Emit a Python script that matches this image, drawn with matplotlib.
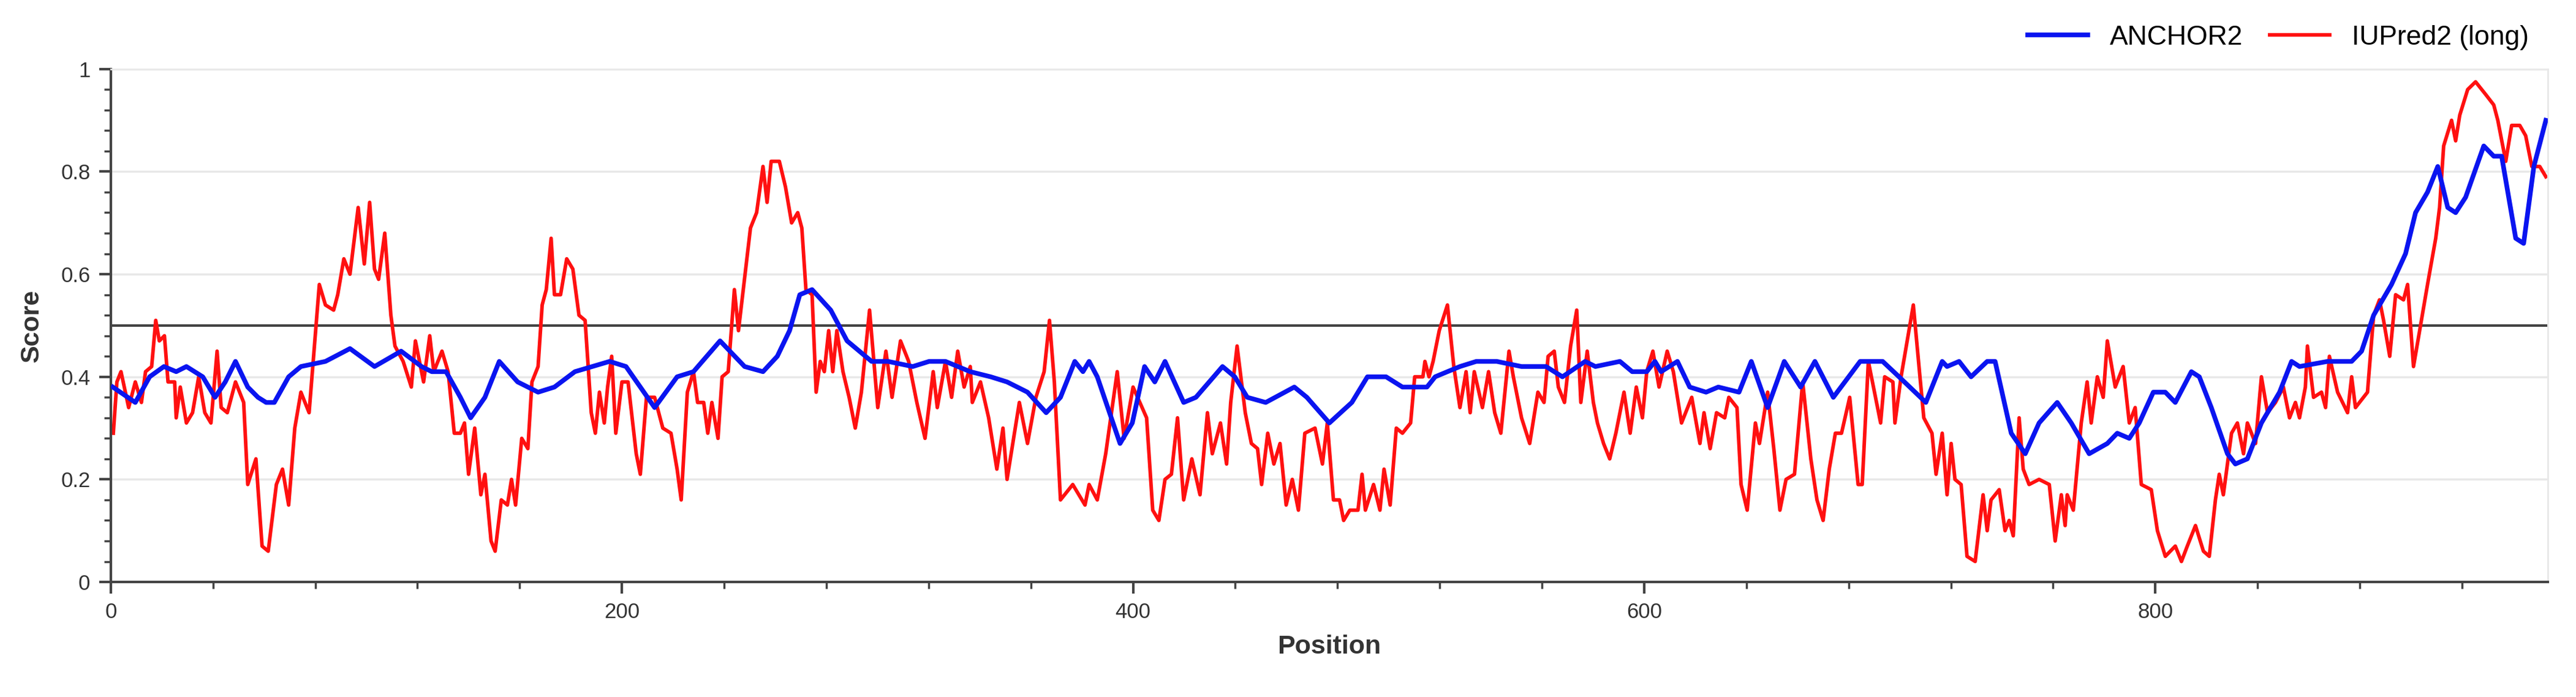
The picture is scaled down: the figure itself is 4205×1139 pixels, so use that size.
import matplotlib
matplotlib.use("Agg")
import matplotlib.pyplot as plt
from matplotlib.ticker import MultipleLocator

plt.rcParams["font.family"] = ["Liberation Sans", "DejaVu Sans"]

# IUPred2 (long) - positions and scores
iupred_pos = [1, 2.4, 4, 7, 9.6, 12, 13.6, 16, 17.6, 19, 21, 22.4, 25, 25.6, 27.2, 29.6, 32, 34.4, 36.8, 39.2,
              41.6, 43.2, 45.6, 48.8, 52, 53.6, 56.8, 59.2, 61.6, 64.8, 67.2, 69.6, 72, 74.4, 77.6, 79.2, 81.6, 84,
              87.2, 88.8, 91.2, 93.6, 96.8, 99.2, 101.3, 103.2, 104.8, 107.2, 109.6, 111.2, 114.4, 117.6, 119.2,
              122.4, 124.8, 126.4, 129.6, 132, 134.4, 136.8, 138.4, 140, 142.4, 144.8, 146.4, 148.8, 150.4, 152.8,
              155.2, 156.8, 158.4, 160.8, 163.2, 164.8, 167.2, 168.8, 170.4, 172.3, 173.6, 176, 178.4, 180.8, 183.2,
              185.6, 188, 189.6, 191.2, 193.1, 194.4, 196, 197.6, 200, 202.4, 204, 205.6, 207.2, 209.6, 212.8, 216,
              219.2, 221.6, 223.2, 225.6, 228, 229.6, 232, 233.6, 235.2, 237.6, 239.2, 241.6, 244, 245.6,
              250.3, 252.7, 255.2, 256.8, 258.4, 261.6, 264, 266.4, 268.8, 270.4, 272, 274.4, 276, 277.6, 279.2,
              280.9, 282.5, 284.1, 286.5, 288.9, 291.3, 293.7, 296.9, 300.1, 303.3, 305.7, 309, 312.2, 315.4, 318.6,
              321.8, 323.4, 326.6, 329, 331.4, 333.9, 336.3, 337.1, 340.3, 343.5, 346.7, 349.1, 350.7, 353.9, 355.5,
              358.7, 362, 365.2, 367.3, 369.2, 371.6, 376.4, 381.2, 382.8, 386, 389.3, 393.8, 396.5, 400, 405.3,
              407.7, 410.1, 412.5, 415, 417.4, 419.8, 423, 426.2, 429.1, 431, 434.2, 436.6, 438.2, 440.7, 443.9,
              446.3, 448.7, 450.3, 452.7, 455.1, 457.5, 459.9, 462.3, 464.7, 467.2, 471.2, 474.1, 476, 478.4, 480.8,
              482.4, 484.8, 488, 489.6,
              490.9, 494.1, 496.6, 498.2, 500.6, 503, 505.4, 508.6, 510.2, 513.4, 514.2, 515.8, 517.4, 519.8, 523,
              525.5, 527.9, 530.3, 531.9, 533.5, 536.7, 539.1, 541.5, 543.9, 547.1, 548.8, 552, 555.2, 558.4, 560.8,
              562.4, 564.8, 566.4, 568.8, 571.2, 573.6, 575.2, 577.7, 580.1, 581.7, 584.1, 586.5, 588.9, 592.1,
              594.5, 596.9, 599.3, 601, 603.4, 605.8, 609, 611.4, 614.6, 618.6, 621.8, 623.4, 625.8, 628.3, 631.5,
              633.1, 636.3, 637.9, 640.3, 643.5, 645.1, 648.3, 650.7, 653.1, 655.5, 658.8, 662, 665.2, 667.6, 670,
              672.4, 674.8, 677.2, 680.4, 683.7, 685.3, 687.7, 690.1, 692.5, 694.1, 697.3, 698.1, 700.5, 702.9,
              705.3, 707.7, 709.4, 712.6, 714.2, 716.6,
              718.5, 720.1, 721.6, 724, 726.3, 729.5, 732.6, 734.2, 735.7, 738.9, 741.2, 742.8, 744.4, 746.7, 748.3,
              750.6, 754.5, 758.5, 760.8, 763.2, 764.7, 765.5, 767.9, 771, 773.3, 774.9, 777.3, 779.6, 781.2, 784.3,
              787.4, 789.8, 792.1, 794.5, 798.4, 800.8, 803.9, 807.8, 810.2, 812.5, 815.7, 818.8, 821.1, 823.5, 825,
              826.6, 829.8, 832.1, 834.5, 836, 839.2, 841.5, 843.9, 847, 850.1, 852.5, 854.8, 856.4, 858.7, 859.5,
              861.9, 865, 866.6, 868.1, 871.3, 875.2, 876.8, 878.3, 883, 885.4, 887.7, 889.3, 891.7, 894, 897.1,
              898.7, 901, 903.4, 906.5, 909.7, 911.2, 912.8, 915.9, 917.5, 919.1, 922.2, 925.3, 929.3, 932.4, 934,
              937.1, 939.4, 942.6, 944.9, 947.3, 950.4, 952.8]
iupred_val = [.29, .39, .41, .34, .39, .35, .41, .42, .51, .47, .48, .39, .39, .32, .38, .31, .33, .40, .33, .31,
              .45, .34, .33, .39, .35, .19, .24, .07, .06, .19, .22, .15, .30, .37, .33, .43, .58, .54,
              .53, .56, .63, .60, .73, .62, .74, .61, .59, .68, .52, .46, .43, .38, .47,
              .39, .48, .41, .45, .41, .29, .29, .31, .21, .30, .17, .21, .08, .06, .16,
              .15, .20, .15, .28, .26, .39, .42, .54, .57, .67, .56, .56, .63, .61, .52,
              .51, .33, .29, .37, .31, .38, .44, .29, .39, .39, .32, .25, .21, .36, .36, .30,
              .29, .22, .16, .37, .41, .35, .35, .29, .35, .28, .40, .41, .57, .49,
              .69, .72, .81, .74, .82, .82, .77, .70, .72, .69, .57, .56, .37, .43, .41,
              .49, .41, .49, .41, .36, .30, .37, .53, .34, .45, .36, .47, .43, .35, .28,
              .41, .34, .43, .36, .45, .38, .42, .35, .39, .32, .22, .30, .20, .30, .35,
              .27, .36, .41, .51, .39, .16, .19, .15, .19, .16, .25, .41, .28, .38, .32,
              .14, .12, .20, .21, .32, .16, .24, .17, .33, .25, .31, .23, .35, .46, .33,
              .27, .26, .19, .29, .23, .27, .15, .20, .14, .29, .30, .23, .31, .16, .16,
              .12, .14, .14, .21,
              .14, .19, .14, .22, .15, .30, .29, .31, .40, .40, .43, .40, .43, .49, .54,
              .42, .34, .41, .33, .41, .34, .41, .33, .29, .45, .40, .32, .27, .37, .35,
              .44, .45, .38, .35, .46, .53, .35, .45, .35, .31, .27, .24, .29, .37,
              .29, .38, .32, .41, .45, .38, .45, .41, .31, .36, .27, .33, .26, .33, .32,
              .36, .34, .19, .14, .31, .27, .37, .26, .14, .20, .21, .39, .24, .16, .12,
              .22, .29, .29, .36, .19, .19, .43, .37, .31, .40, .39, .31, .40, .47,
              .54, .41, .32, .29, .21, .29,
              .17, .27, .20, .19, .05, .04, .17, .10, .16, .18, .10, .12, .09, .32, .22,
              .19, .20, .19, .08, .17, .11, .17, .14, .31, .39, .31, .40, .36, .47, .38,
              .42, .31, .34, .19, .18, .10, .05, .07, .04, .07, .11, .06, .05, .16, .21,
              .17, .29, .31, .25, .31, .27, .40, .33, .35, .38, .32, .35, .32, .38, .46,
              .36, .37, .34, .44, .37, .33, .40, .34, .37, .52, .55, .51, .44, .56, .55,
              .58, .42, .49, .58, .67, .73, .85, .90, .86, .91, .96, .975, .95, .93, .90,
              .82, .89, .89, .87, .81, .81, .79]

# ANCHOR2
anchor_pos = [0.8, 9.6, 15.2, 20.8, 25.6, 29.6, 36, 40.8, 44.8, 48.8, 53.6, 57.6, 60.8, 64, 69.6, 74.4, 84, 93.6,
              103.2, 113.6, 121.6, 125.6, 131.2, 136.8, 140.8, 146.4, 152, 159.2, 167.2, 173.6, 181.6, 195.2, 201.6,
              212.8, 221.6, 228, 238.4, 248,
              255.2, 260.8, 265.6, 269.6, 274.4, 281.7, 288.1, 297.7, 304.1, 313.8, 320.2, 326.6, 336.3, 344.3, 350.7,
              358.7, 366, 371.6, 377.2, 380.4, 382.8, 386, 394.9, 399.7, 404.5, 408.5, 412.5, 419.8, 424.6, 435,
              439.8, 444.7, 451.9, 463.1, 468, 476.8, 485.6,
              491.7, 499, 505.4, 510.2, 515, 518.2, 523, 527.9, 534.3, 542.3, 552, 561.6, 568, 576.9, 580.9, 590.5,
              595.3, 601, 604.2, 606.6, 613, 617.8, 624.2, 629, 637.1, 641.9, 648.3, 654.8, 661.2, 666.8, 674, 684.5,
              693.3, 699.7, 710.2, 716.6,
              718.5, 723.2, 727.9, 734.2, 737.3, 743.6, 749.1, 754.5, 761.6, 767.1, 774.1, 781.2, 785.1, 789.8, 793.7,
              799.2, 803.9, 807.8, 814.1, 817.2, 821.9, 828.2, 831.3, 836, 841.5, 848.6, 853.3, 856.4, 867.4, 876.8,
              880.7, 885.4, 892.4, 897.9, 901.8, 906.5, 910.5, 914.4, 917.5, 921.4, 928.5, 932.4, 935.5, 941, 944.1,
              948.1, 952.8]
anchor_val = [.38, .35, .40, .42, .41, .42, .40, .36, .39, .43, .38, .36, .35, .35, .40, .42, .43, .455,
              .42, .45, .42, .41, .41, .36, .32, .36, .43, .39, .37, .38, .41, .43, .42,
              .34, .40, .41, .47, .42,
              .41, .44, .49, .56, .57, .53, .47, .43, .43, .42, .43, .43, .41, .40, .39,
              .37, .33, .36, .43, .41, .43, .40, .27, .31, .42, .39, .43, .35, .36, .42,
              .40, .36, .35, .38, .36, .31, .35,
              .40, .40, .38, .38, .38, .40, .41, .42, .43, .43, .42, .42, .40, .43, .42, .43,
              .41, .41, .43, .41, .43, .38, .37, .38, .37, .43, .34, .43, .38, .43, .36, .43,
              .43, .40, .35, .43,
              .42, .43, .40, .43, .43, .29, .25, .31, .35, .31, .25, .27, .29, .28, .31,
              .37, .37, .35, .41, .40, .34, .25, .23, .24, .31, .37, .43, .42, .43, .43,
              .45, .52, .58, .64, .72, .76, .81, .73, .72, .75, .85, .83, .83, .67, .66,
              .81, .90]

threshold = 0.5

fig = plt.figure(figsize=(42.05, 11.39), dpi=100)
ax = fig.add_axes([0.043, 0.165, 0.946, 0.736])

ax.grid(axis="y", color="#e8e8e8", linewidth=2.5, zorder=0)
ax.axhline(threshold, color="#444444", linewidth=3, zorder=1)
ax.plot(anchor_pos, anchor_val, color="#0a14f0", linewidth=5.5, label="ANCHOR2", zorder=3)
ax.plot(iupred_pos, iupred_val, color="#ff1010", linewidth=4.2, label="IUPred2 (long)", zorder=2)

ax.set_xlim(0, 953.5)
ax.set_ylim(0, 1)
ax.xaxis.set_major_locator(MultipleLocator(200))
ax.xaxis.set_minor_locator(MultipleLocator(40))
ax.yaxis.set_minor_locator(MultipleLocator(0.04))
ax.set_yticks([0, 0.2, 0.4, 0.6, 0.8, 1.0])
ax.set_yticklabels(["0", "0.2", "0.4", "0.6", "0.8", "1"])

for s in ["left", "bottom"]:
    ax.spines[s].set_color("#444444")
    ax.spines[s].set_linewidth(3)
for s in ["top", "right"]:
    ax.spines[s].set_color("#e8e8e8")
    ax.spines[s].set_linewidth(2)

ax.tick_params(which="major", length=14, width=3, color="#444444", labelsize=25, labelcolor="#333333", pad=10)
ax.tick_params(which="minor", length=8, width=2.5, color="#444444")

ax.set_xlabel("Position", fontsize=31, fontweight="bold", color="#333333", labelpad=14)
ax.set_ylabel("Score", fontsize=31, fontweight="bold", color="#333333", labelpad=20)

ax.legend(loc="lower right", bbox_to_anchor=(1.0, 1.0), ncol=2, frameon=False, fontsize=32,
          handlelength=2.2, columnspacing=1.0, handletextpad=0.8, borderaxespad=0.3)

fig.savefig("out.png", dpi=100, facecolor="white")
